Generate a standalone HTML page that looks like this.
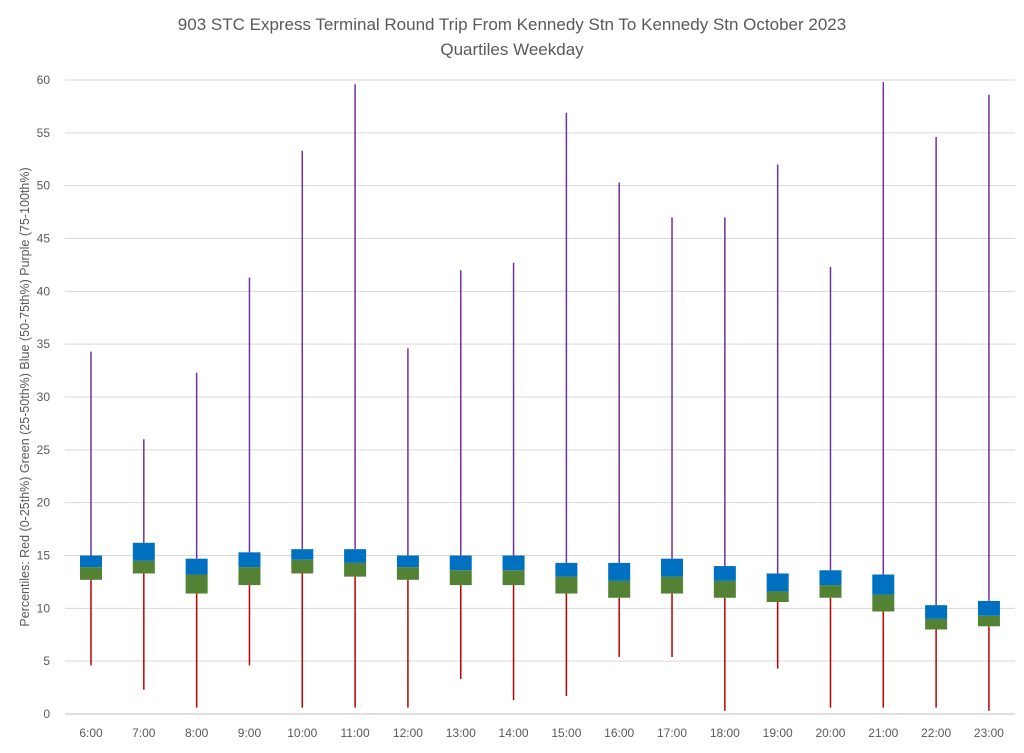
<!DOCTYPE html>
<html><head><meta charset="utf-8"><style>
body{margin:0;background:#fff;font-family:"Liberation Sans",sans-serif}
</style></head><body>
<svg id="c" width="1024" height="748" xmlns="http://www.w3.org/2000/svg">
<text x="512" y="30" text-anchor="middle" font-size="17" fill="#595959">903 STC Express Terminal Round Trip From Kennedy Stn To Kennedy Stn October 2023</text>
<text x="512" y="55" text-anchor="middle" font-size="17" fill="#595959">Quartiles Weekday</text>
<text transform="translate(29,397) rotate(-90)" text-anchor="middle" font-size="12.5" fill="#595959">Percentiles:  Red (0-25th%)  Green (25-50th%)  Blue (50-75th%)  Purple (75-100th%)</text>
<g id="grid"></g><g id="marks"></g>
</svg>
<script>
const categories=["6:00","7:00","8:00","9:00","10:00","11:00","12:00","13:00","14:00","15:00","16:00","17:00","18:00","19:00","20:00","21:00","22:00","23:00"];
const minVals=[4.6,2.3,0.6,4.6,0.6,0.6,0.6,3.3,1.3,1.7,5.4,5.4,0.3,4.3,0.6,0.6,0.6,0.3];
const q1Vals=[12.7,13.3,11.4,12.2,13.3,13.0,12.7,12.2,12.2,11.4,11.0,11.4,11.0,10.6,11.0,9.7,8.0,8.3];
const medVals=[13.9,14.5,13.2,13.9,14.6,14.3,13.9,13.6,13.6,13.0,12.6,13.0,12.6,11.6,12.2,11.3,9.0,9.3];
const q3Vals=[15.0,16.2,14.7,15.3,15.6,15.6,15.0,15.0,15.0,14.3,14.3,14.7,14.0,13.3,13.6,13.2,10.3,10.7];
const maxVals=[34.3,26.0,32.3,41.3,53.3,59.6,34.6,42.0,42.7,56.9,50.3,47.0,47.0,52.0,42.3,59.8,54.6,58.6];
const yTicks=[0,5,10,15,20,25,30,35,40,45,50,55,60];
const NS="http://www.w3.org/2000/svg";
const y=v=>714-v*(634/60);
const x=i=>91+i*52.82;
function mk(t,a,p){const e=document.createElementNS(NS,t);for(const k in a)e.setAttribute(k,a[k]);p.appendChild(e);return e;}
const grid=document.getElementById('grid'),marks=document.getElementById('marks');
yTicks.forEach(v=>{
 const l=mk('line',{x1:65,x2:1015,y1:y(v),y2:y(v),stroke:v===0?'#bfbfbf':'#d9d9d9','stroke-width':1},grid);
 
 
 const t=mk('text',{x:50,y:y(v)+4,'text-anchor':'end','font-size':12,fill:'#595959'},grid);t.textContent=v;
 
 
});
categories.forEach((c,i)=>{
 const cx=x(i),w=22;
 const t=mk('text',{x:cx,y:737,'text-anchor':'middle','font-size':12,fill:'#595959'},grid);t.textContent=c;
 
 
 const lo=mk('line',{x1:cx,x2:cx,y1:y(minVals[i]),y2:y(q1Vals[i]),stroke:'#C00000','stroke-width':1.5},marks);
 
 
 const hi=mk('line',{x1:cx,x2:cx,y1:y(maxVals[i]),y2:y(q3Vals[i]),stroke:'#7030A0','stroke-width':1.5},marks);
 
 
 const g=mk('rect',{x:cx-w/2,y:y(medVals[i]),width:w,height:y(q1Vals[i])-y(medVals[i]),fill:'#548235'},marks);
 
 
 const b=mk('rect',{x:cx-w/2,y:y(q3Vals[i]),width:w,height:y(medVals[i])-y(q3Vals[i]),fill:'#0070C0'},marks);
 
 
});
</script>
</body></html>
